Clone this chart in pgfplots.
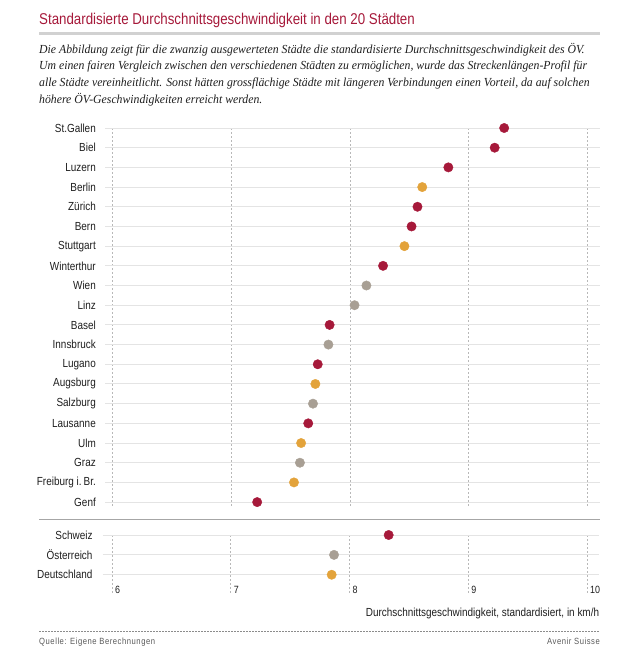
\documentclass[border=0pt]{standalone}
\usepackage{fontspec}
\setmainfont{Liberation Sans}
\newfontfamily\cond{Liberation Sans}[FakeStretch=0.85]
\newfontfamily\condsp{Liberation Sans}[FakeStretch=0.85,LetterSpace=6]
\newfontfamily\sub{Liberation Serif}[FakeStretch=0.955]
\usepackage{pgfplots}
\pgfplotsset{compat=1.18}
\definecolor{cred}{HTML}{A6193A}
\definecolor{corange}{HTML}{E3A33B}
\definecolor{cgray}{HTML}{A89F94}
\definecolor{gridh}{HTML}{E4E4E4}
\definecolor{gridv}{HTML}{B8B8B8}
\definecolor{txt}{HTML}{1E1E1E}
\pgfplotsset{
  dotaxis/.style={
    scale only axis,
    axis line style={draw=none},
    y dir=reverse,
    clip=false,
    major tick length=0pt,
    xtick={6,7,8,9,10},
    xticklabels={},
    xmajorgrids, ymajorgrids,
    x grid style={gridv, line width=0.6pt, dash pattern=on 2pt off 2pt},
    y grid style={gridh, line width=1pt},
    yticklabel style={font=\cond\fontsize{11.7}{13}\selectfont, text=txt, inner sep=0pt, xshift=-9pt},
  },
  dots/.style={only marks, color=#1, mark=*, mark size=4.7pt, mark options={solid, draw=#1, fill=#1, line width=0.4pt}},
}
\begin{document}
\begin{tikzpicture}
\path (0pt,0pt) rectangle (640pt,-652pt);
% title
\node[anchor=base west, inner sep=0pt, text=cred, font=\cond\fontsize{15.65}{17}\selectfont] at (39pt,-25pt) {Standardisierte Durchschnittsgeschwindigkeit in den 20 Städten};
\draw[line width=3pt, color=black!18] (39pt,-33.3pt) -- (600pt,-33.3pt);
% subtitle
\begin{scope}[every node/.style={anchor=base west, inner sep=0pt, text=txt, font=\sub\itshape\fontsize{12.3}{14}\selectfont}]
\node at (39pt,-53.3pt) {Die Abbildung zeigt für die zwanzig ausgewerteten Städte die standardisierte Durchschnittsgeschwindigkeit des ÖV.};
\node at (39pt,-70pt) {Um einen fairen Vergleich zwischen den verschiedenen Städten zu ermöglichen, wurde das Streckenlängen-Profil für};
\node at (39pt,-86.7pt) {alle Städte vereinheitlicht. Sonst hätten grossflächige Städte mit längeren Verbindungen einen Vorteil, da auf solchen};
\node at (39pt,-103.3pt) {höhere ÖV-Geschwindigkeiten erreicht werden.};
\end{scope}
% top panel
\begin{axis}[dotaxis,
  at={(105pt,-508pt)}, anchor=south west,
  width=495pt, height=380pt,
  xmin=5.9385, xmax=10.107,
  ymin=1, ymax=20.3,
  ytick={1,...,20},
  yticklabels={St.Gallen,Biel,Luzern,Berlin,Zürich,Bern,Stuttgart,Winterthur,Wien,Linz,Basel,Innsbruck,Lugano,Augsburg,Salzburg,Lausanne,Ulm,Graz,Freiburg i.\,Br.,Genf},
]
\addplot[dots=cred] coordinates {(9.30,1) (9.22,2) (8.83,3) (8.57,5) (8.52,6) (8.28,8) (7.83,11) (7.73,13) (7.65,16) (7.22,20)};
\addplot[dots=corange] coordinates {(8.61,4) (8.46,7) (7.71,14) (7.59,17) (7.53,19)};
\addplot[dots=cgray] coordinates {(8.14,9) (8.04,10) (7.82,12) (7.69,15) (7.58,18)};
\end{axis}
\draw[line width=1.2pt, color=black!35] (39pt,-519.3pt) -- (600pt,-519.3pt);
% bottom panel
\begin{axis}[dotaxis,
  at={(102.7pt,-595pt)}, anchor=south west,
  width=496.6pt, height=60pt,
  xmin=5.9217, xmax=10.104,
  ymin=1, ymax=4.02,
  ytick={1,2,3},
  yticklabels={Schweiz,Österreich,Deutschland},
  yticklabel style={xshift=-1pt},
]
\addplot[dots=cred] coordinates {(8.33,1)};
\addplot[dots=cgray] coordinates {(7.87,2)};
\addplot[dots=corange] coordinates {(7.85,3)};
\node[anchor=base west, inner sep=0pt, text=txt, font=\cond\fontsize{10.5}{12}\selectfont, xshift=3pt] at (axis cs:6,3.937) {6};
\node[anchor=base west, inner sep=0pt, text=txt, font=\cond\fontsize{10.5}{12}\selectfont, xshift=3pt] at (axis cs:7,3.937) {7};
\node[anchor=base west, inner sep=0pt, text=txt, font=\cond\fontsize{10.5}{12}\selectfont, xshift=3pt] at (axis cs:8,3.937) {8};
\node[anchor=base west, inner sep=0pt, text=txt, font=\cond\fontsize{10.5}{12}\selectfont, xshift=3pt] at (axis cs:9,3.937) {9};
\node[anchor=base west, inner sep=0pt, text=txt, font=\cond\fontsize{10.5}{12}\selectfont, xshift=3pt] at (axis cs:10,3.937) {10};
\end{axis}
\node[anchor=base east, inner sep=0pt, text=txt, font=\cond\fontsize{11.7}{13}\selectfont] at (599.3pt,-616pt) {Durchschnittsgeschwindigkeit, standardisiert, in km/h};
\draw[line width=0.7pt, color=black!45, dash pattern=on 1.5pt off 1.5pt] (39pt,-631.7pt) -- (600pt,-631.7pt);
\node[anchor=base west, inner sep=0pt, text=black!65, font=\condsp\fontsize{9}{10}\selectfont] at (39pt,-644.5pt) {Quelle: Eigene Berechnungen};
\node[anchor=base east, inner sep=0pt, text=black!65, font=\condsp\fontsize{9}{10}\selectfont] at (600pt,-644.5pt) {Avenir Suisse};
\end{tikzpicture}
\end{document}
